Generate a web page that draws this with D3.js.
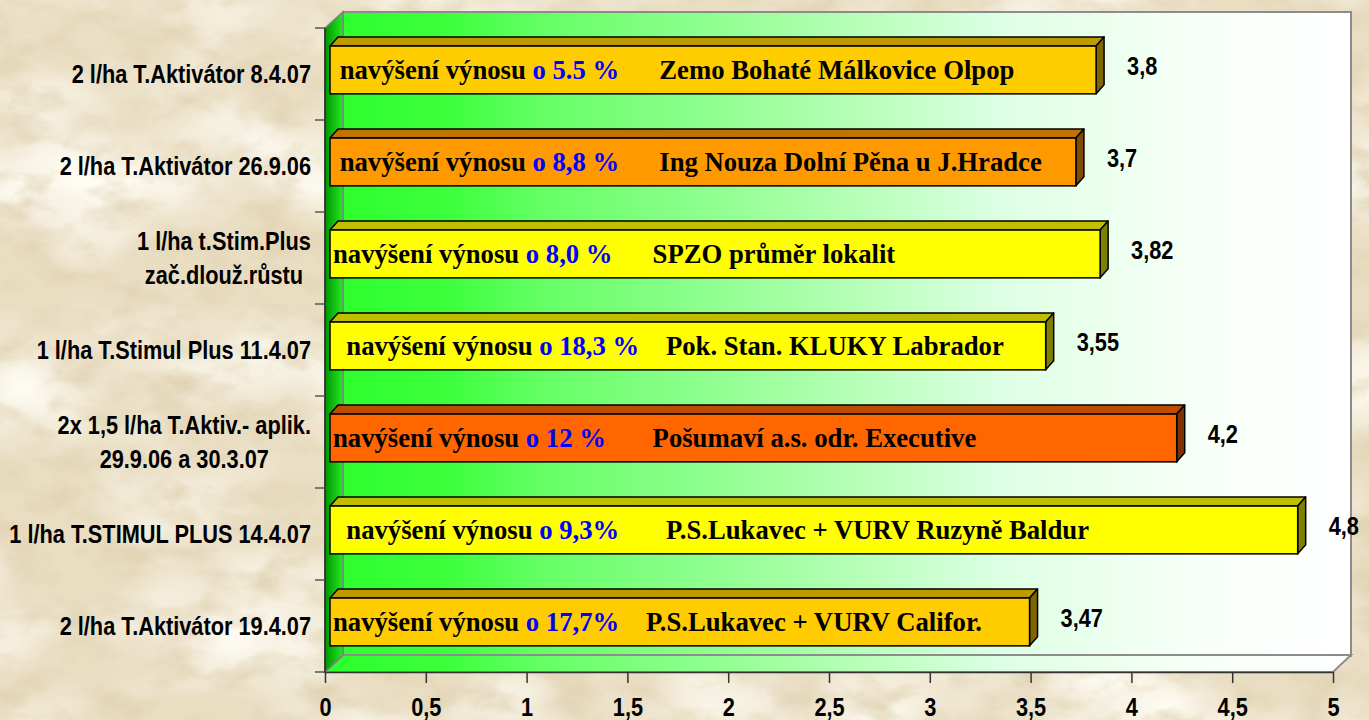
<!DOCTYPE html>
<html>
<head>
<meta charset="utf-8">
<script src="https://cdn.jsdelivr.net/npm/d3@7"></script>
<style>
  body { margin: 0; background: #e8dcc0; }
  svg { display: block; }
  .cat { font-family: "Liberation Sans", Arial, sans-serif; font-weight: bold; font-size: 25px; fill: #000; }
  .note { font-family: "Liberation Serif", "Times New Roman", serif; font-weight: bold; font-size: 26.7px; white-space: pre; }
</style>
</head>
<body>
<script>
// chart values
var categories = [
  "2 l/ha T.Aktivátor 8.4.07",
  "2 l/ha T.Aktivátor 26.9.06",
  "1 l/ha t.Stim.Plus\nzač.dlouž.růstu",
  "1 l/ha T.Stimul Plus 11.4.07",
  "2x 1,5 l/ha T.Aktiv.- aplik.\n29.9.06 a 30.3.07",
  "1 l/ha T.STIMUL PLUS 14.4.07",
  "2 l/ha T.Aktivátor 19.4.07"
];
var values = [3.8, 3.7, 3.82, 3.55, 4.2, 4.8, 3.47];
var increases = [" navýšení výnosu ", " navýšení výnosu ", "navýšení výnosu ", "  navýšení výnosu ",
                 "navýšení výnosu ", "  navýšení výnosu ", "navýšení výnosu "];
var increaseValues = ["o 5.5 %", "o 8,8 %", "o 8,0 %", "o 18,3 %", "o 12 %", "o 9,3%", "o 17,7%"];
var sites = ["      Zemo Bohaté Málkovice Olpop", "      Ing Nouza Dolní Pěna u J.Hradce",
             "      SPZO průměr lokalit", "    Pok. Stan. KLUKY Labrador",
             "       Pošumaví a.s. odr. Executive", "       P.S.Lukavec + VURV Ruzyně Baldur",
             "    P.S.Lukavec + VURV Califor."];
var xTicks = [0, 0.5, 1, 1.5, 2, 2.5, 3, 3.5, 4, 4.5, 5];
var barColors = ["#FFCC00", "#FF9900", "#FFFF00", "#FFFF00", "#FF6600", "#FFFF00", "#FFCC00"];

var w = 1369, h = 720;
var depth = 18, depthY = 17;   // wall depth
var barDx = 8, barDy = 9;      // bar 3d depth
var barShift = 5;
var narrow = 0.87;             // squeeze for the narrow sans labels

var cz = d3.formatLocale({decimal: ",", thousands: " ", grouping: [3], currency: ["", " Kč"]});
var fmt = cz.format("");

var xScale = d3.scaleLinear().domain([0, 5]).range([325, 1333]);
var yScale = d3.scaleBand().domain(categories).range([28, 672]);

var svg = d3.select("body").append("svg").attr("width", w).attr("height", h);
var defs = svg.append("defs");

function squeeze(x, y) { return "translate(" + x + "," + y + ") scale(" + narrow + ",1)"; }

// parchment background
var paper = defs.append("filter").attr("id", "paper").attr("x", 0).attr("y", 0).attr("width", "100%").attr("height", "100%");
paper.append("feTurbulence").attr("type", "fractalNoise").attr("baseFrequency", "0.02 0.035")
     .attr("numOctaves", 5).attr("seed", 7).attr("result", "n");
paper.append("feColorMatrix").attr("in", "n").attr("type", "matrix")
     .attr("values", "0 0 0 0 0.74  0 0 0 0 0.64  0 0 0 0 0.44  2.0 0 0 0 -0.9");
var paper2 = defs.append("filter").attr("id", "paper2").attr("x", 0).attr("y", 0).attr("width", "100%").attr("height", "100%");
paper2.append("feTurbulence").attr("type", "fractalNoise").attr("baseFrequency", "0.006 0.009")
      .attr("numOctaves", 3).attr("seed", 2).attr("result", "n");
paper2.append("feColorMatrix").attr("in", "n").attr("type", "matrix")
      .attr("values", "0 0 0 0 0.99  0 0 0 0 0.97  0 0 0 0 0.9  2.2 0 0 0 -0.85");

svg.append("rect").attr("width", w).attr("height", h).attr("fill", "#e9ddc2");
svg.append("rect").attr("width", w).attr("height", h).attr("filter", "url(#paper2)");
svg.append("rect").attr("width", w).attr("height", h).attr("filter", "url(#paper)");

// gradients
var xLeft = xScale.range()[0], xRight = xScale.range()[1];
var yTop = yScale.range()[0], yBottom = yScale.range()[1];

var wallGrad = defs.append("linearGradient").attr("id", "wall")
  .attr("gradientUnits", "userSpaceOnUse")
  .attr("x1", xLeft + depth).attr("x2", xRight + depth).attr("y1", 0).attr("y2", 0);
[[0, "#2eff2e"], [0.1, "#3cff3c"], [0.2, "#66ff66"], [0.45, "#a6ffa6"], [0.65, "#ddffe3"], [0.85, "#f8fff9"], [1, "#ffffff"]]
  .forEach(function(s) { wallGrad.append("stop").attr("offset", s[0]).attr("stop-color", s[1]); });

var sideGrad = defs.append("linearGradient").attr("id", "side")
  .attr("gradientUnits", "userSpaceOnUse")
  .attr("x1", xLeft).attr("x2", xLeft + depth).attr("y1", 0).attr("y2", 0);
sideGrad.append("stop").attr("offset", 0).attr("stop-color", "#009400");
sideGrad.append("stop").attr("offset", 1).attr("stop-color", "#22ea22");

// back wall
svg.append("rect")
   .attr("x", xLeft + depth).attr("y", yTop - depthY + 1)
   .attr("width", xRight - xLeft).attr("height", yBottom - yTop)
   .attr("fill", "url(#wall)")
   .attr("stroke", "#8c8c8c").attr("stroke-width", 2);

// floor
svg.append("path")
   .attr("d", d3.line()([[xLeft, yBottom], [xLeft + depth, yBottom - depthY], [xRight + depth, yBottom - depthY], [xRight, yBottom]]) + "Z")
   .attr("fill", "url(#wall)")
   .attr("stroke", "#8c8c8c").attr("stroke-width", 2);

// left wall
svg.append("path")
   .attr("d", d3.line()([[xLeft, yTop], [xLeft + depth, yTop - depthY + 1], [xLeft + depth, yBottom - depthY], [xLeft, yBottom]]) + "Z")
   .attr("fill", "url(#side)")
   .attr("stroke", "#808080").attr("stroke-width", 1.5);

// axes lines
svg.append("line").attr("x1", xLeft).attr("x2", xLeft).attr("y1", yTop).attr("y2", yBottom)
   .attr("stroke", "#222").attr("stroke-width", 1.5);

var xAxis = d3.axisBottom(xScale).tickValues(xTicks).tickFormat(fmt).tickSize(11).tickSizeOuter(0);
var gx = svg.append("g").attr("transform", "translate(0," + yBottom + ")").call(xAxis);
gx.select(".domain").attr("stroke", "#333").attr("stroke-width", 1.5);
gx.selectAll(".tick line").attr("stroke", "#333").attr("stroke-width", 1.5);
gx.selectAll(".tick text").attr("class", "cat").attr("y", 0).attr("dy", null)
  .attr("transform", squeeze(0, 44));

// category ticks at band edges
var edges = categories.map(function(c) { return yScale(c); }).concat([yBottom]);
svg.selectAll(".ctick").data(edges).enter().append("line")
   .attr("x1", xLeft - 10).attr("x2", xLeft)
   .attr("y1", function(d) { return d; }).attr("y2", function(d) { return d; })
   .attr("stroke", "#555").attr("stroke-width", 1.5);

// category labels
categories.forEach(function(c) {
  var lines = c.split("\n");
  var cy = yScale(c) + yScale.bandwidth() / 2;
  var g = svg.append("g");
  var texts = g.selectAll("text").data(lines).enter().append("text")
     .attr("class", "cat")
     .text(function(d) { return d; });
  var ly = function(i) { return cy + 9 + (i - (lines.length - 1) / 2) * 34; };
  if (lines.length == 1) {
    texts.attr("text-anchor", "end").attr("transform", function(d, i) { return squeeze(311, ly(i)); });
  } else {
    var maxW = d3.max(texts.nodes(), function(n) { return n.getComputedTextLength(); }) * narrow;
    texts.attr("text-anchor", "middle").attr("transform", function(d, i) { return squeeze(311 - maxW / 2, ly(i)); });
  }
});

// bars
var bx0 = xLeft + barShift;
var barH = yScale.bandwidth() * 0.52;
var barTop = function(i) { return yScale(categories[i]) + yScale.bandwidth() * 0.196; };
var barEnd = function(i) { return xScale(values[i]) + barShift; };
var shade = function(c, k) { var r = d3.rgb(c); return d3.rgb(r.r * k, r.g * k, r.b * k).formatHex(); };

var bars = svg.selectAll(".bar").data(values).enter().append("g").attr("class", "bar");

bars.append("path")
    .attr("d", function(d, i) {
      var y0 = barTop(i), xe = barEnd(i);
      return d3.line()([[bx0, y0], [bx0 + barDx, y0 - barDy], [xe + barDx, y0 - barDy], [xe, y0]]) + "Z";
    })
    .attr("fill", function(d, i) { return shade(barColors[i], 0.75); })
    .attr("stroke", "#000").attr("stroke-width", 1.5).attr("stroke-linejoin", "round");

bars.append("path")
    .attr("d", function(d, i) {
      var y0 = barTop(i), xe = barEnd(i);
      return d3.line()([[xe, y0], [xe + barDx, y0 - barDy], [xe + barDx, y0 + barH - barDy], [xe, y0 + barH]]) + "Z";
    })
    .attr("fill", function(d, i) { return shade(barColors[i], 0.5); })
    .attr("stroke", "#000").attr("stroke-width", 1.5).attr("stroke-linejoin", "round");

bars.append("rect")
    .attr("x", bx0)
    .attr("y", function(d, i) { return barTop(i); })
    .attr("width", function(d, i) { return barEnd(i) - bx0; })
    .attr("height", barH)
    .attr("fill", function(d, i) { return barColors[i]; })
    .attr("stroke", "#000").attr("stroke-width", 1.5);

// notes inside bars
var notes = bars.append("text")
    .attr("class", "note")
    .attr("x", bx0 + 3)
    .attr("y", function(d, i) { return barTop(i) + 33; });
notes.append("tspan").attr("fill", "#000").text(function(d, i) { return increases[i]; });
notes.append("tspan").attr("fill", "#0000ff").text(function(d, i) { return increaseValues[i]; });
notes.append("tspan").attr("fill", "#000").text(function(d, i) { return sites[i]; });

// value labels
bars.append("text")
    .attr("class", "cat")
    .attr("transform", function(d, i) { return squeeze(barEnd(i) + barDx + 23, barTop(i) + barH / 2 - 4 + 9); })
    .text(function(d) { return fmt(d); });
</script>
</body>
</html>
